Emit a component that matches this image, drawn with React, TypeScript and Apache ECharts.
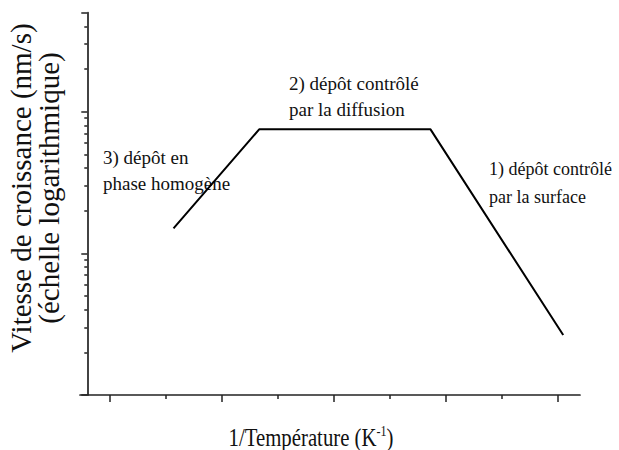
import React, { useEffect, useRef } from "react";
import * as echarts from "echarts";

// Data (x in arbitrary 1/T units, y = growth rate on log scale)
const xValues = [1.54, 3.07, 6.13, 8.5];
const yValues = [15, 75, 75, 2.65];

const xMajorTicks = [0.4, 2.4, 4.4, 6.4, 8.4];
const xMinorTicks = [1.4, 3.4, 5.4, 7.4];
const yMajorTicks = [1, 10, 100, 500];
const yMinorTicks = [2, 3, 4, 5, 6, 7, 8, 9, 20, 30, 40, 50, 60, 70, 80, 90, 200, 300, 400];

const annotations = [
  { text: "3) dépôt en\nphase homogène", left: 103, top: 144, size: 19, lh: 26 },
  { text: "2) dépôt contrôlé\npar la diffusion", left: 289, top: 70, size: 19, lh: 26 },
  { text: "1) dépôt contrôlé\npar la surface", left: 489, top: 155, size: 18, lh: 28 },
];

const yTitle = "Vitesse de croissance (nm/s)\n(échelle logarithmique)";
const FONT = "Liberation Serif";
const AX = "#222";

export default function App() {
  const ref = useRef<HTMLDivElement>(null);
  useEffect(() => {
    if (!ref.current) return;
    const chart = echarts.init(ref.current, undefined, { renderer: "svg" });
    const axisCommon = {
      splitLine: { show: false },
      axisLabel: { show: false },
    };
    chart.setOption({
      animation: false,
      backgroundColor: "#fff",
      textStyle: { fontFamily: FONT },
      grid: { left: 80, top: 12.7, width: 500, height: 382.2, containLabel: false },
      xAxis: [
        {
          ...axisCommon,
          type: "value",
          min: -0.13,
          max: 8.8,
          position: "bottom",
          axisLine: { show: true, onZero: false, lineStyle: { color: AX, width: 1.7 } },
          axisTick: { show: true, inside: false, length: 7, customValues: xMajorTicks, lineStyle: { color: AX, width: 1.5 } },
        },
        {
          ...axisCommon,
          type: "value",
          min: -0.13,
          max: 8.8,
          position: "bottom",
          axisLine: { show: false, onZero: false },
          axisTick: { show: true, inside: false, length: 4, customValues: xMinorTicks, lineStyle: { color: AX, width: 1.5 } },
        },
      ],
      yAxis: [
        {
          ...axisCommon,
          type: "log",
          logBase: 10,
          min: 1,
          max: 500,
          position: "left",
          axisLine: { show: true, onZero: true, onZeroAxisIndex: 0, lineStyle: { color: AX, width: 1.7 } },
          axisTick: { show: true, inside: false, length: 6, customValues: yMajorTicks, lineStyle: { color: AX, width: 1.5 } },
        },
        {
          ...axisCommon,
          type: "log",
          logBase: 10,
          min: 1,
          max: 500,
          position: "left",
          axisLine: { show: false, onZero: true, onZeroAxisIndex: 0 },
          axisTick: { show: true, inside: false, length: 3, customValues: yMinorTicks, lineStyle: { color: AX, width: 1.5 } },
        },
      ],
      series: [
        {
          type: "line",
          xAxisIndex: 0,
          yAxisIndex: 0,
          symbol: "none",
          lineStyle: { color: "#000", width: 2 },
          data: xValues.map((x, i) => [x, yValues[i]]),
        },
      ],
      graphic: [
        ...annotations.map((a) => ({
          type: "text",
          x: a.left,
          y: a.top,
          style: {
            text: a.text,
            fontFamily: FONT,
            fontSize: a.size,
            lineHeight: a.lh,
            fill: "#111",
            align: "left",
            verticalAlign: "top",
          },
        })),
        {
          type: "text",
          x: 35,
          y: 188,
          rotation: Math.PI / 2,
          style: {
            text: yTitle,
            fontFamily: FONT,
            fontSize: 29,
            lineHeight: 28,
            fill: "#111",
            align: "center",
            verticalAlign: "middle",
          },
        },
        {
          type: "text",
          x: 311,
          y: 437,
          scaleX: 0.8,
          style: {
            text: "1/Température (K{sup|-1})",
            fontFamily: FONT,
            fontSize: 26,
            fill: "#111",
            align: "center",
            verticalAlign: "middle",
            rich: {
              sup: { fontSize: 15, fontFamily: FONT, verticalAlign: "top", lineHeight: 15, fill: "#111" },
            },
          },
        },
      ],
    });
    return () => chart.dispose();
  }, []);
  return (
    <div
      ref={ref}
      style={{ position: "fixed", left: 0, top: 0, width: 619, height: 450, background: "#fff" }}
    />
  );
}
